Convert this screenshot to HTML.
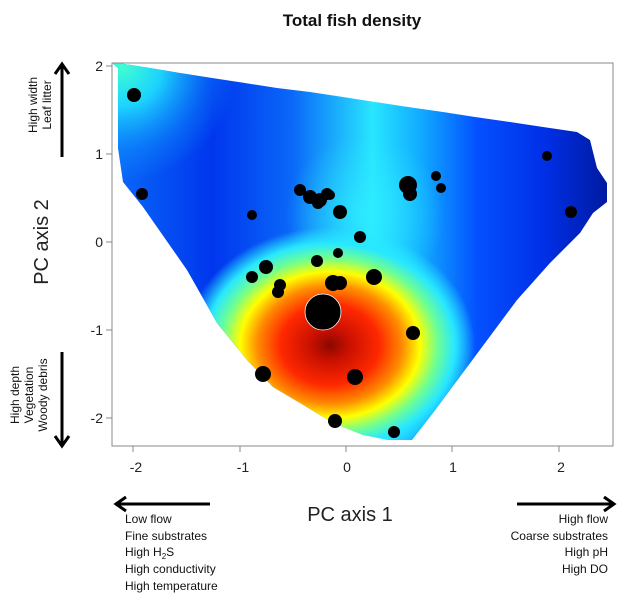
<!DOCTYPE html>
<html><head><meta charset="utf-8"><style>
body{margin:0;background:#fff;}
svg{display:block;font-family:"Liberation Sans",Arial,sans-serif;}
</style></head><body>
<svg width="633" height="601" viewBox="0 0 633 601" xmlns="http://www.w3.org/2000/svg">
<defs>
<linearGradient id="base" x1="112" y1="0" x2="613" y2="0" gradientUnits="userSpaceOnUse">
<stop offset="0" stop-color="#0a6af8"/>
<stop offset="0.2" stop-color="#0036ee"/>
<stop offset="0.36" stop-color="#0a68f8"/>
<stop offset="0.52" stop-color="#28e6ff"/>
<stop offset="0.62" stop-color="#10a8ff"/>
<stop offset="0.73" stop-color="#0450ff"/>
<stop offset="0.86" stop-color="#0030e8"/>
<stop offset="1" stop-color="#00189a"/>
</linearGradient>
<radialGradient id="tl" cx="122" cy="66" r="115" gradientUnits="userSpaceOnUse">
<stop offset="0" stop-color="#40ffd0"/>
<stop offset="0.35" stop-color="#20e8ff" stop-opacity="0.85"/>
<stop offset="0.75" stop-color="#10a0ff" stop-opacity="0.35"/>
<stop offset="1" stop-color="#10a0ff" stop-opacity="0"/>
</radialGradient>
<radialGradient id="cy" cx="365" cy="215" r="80" gradientUnits="userSpaceOnUse">
<stop offset="0" stop-color="#30f0ff" stop-opacity="0.7"/>
<stop offset="1" stop-color="#30f0ff" stop-opacity="0"/>
</radialGradient>
<radialGradient id="hot" cx="0" cy="0" r="1" gradientUnits="userSpaceOnUse" gradientTransform="translate(330,345) scale(145,118)">
<stop offset="0" stop-color="#8a0800"/>
<stop offset="0.13" stop-color="#c81000"/>
<stop offset="0.34" stop-color="#ff2800"/>
<stop offset="0.5" stop-color="#ff8c00"/>
<stop offset="0.62" stop-color="#ffff00"/>
<stop offset="0.74" stop-color="#70ff90"/>
<stop offset="0.86" stop-color="#28e8ff"/>
<stop offset="1" stop-color="#28e8ff" stop-opacity="0"/>
</radialGradient>
<clipPath id="cp"><polygon points="112,63 118,63 150,68 180,73 212,78 245,83 277,88 310,92 343,97 375,102 408,107 443,112 475,117 510,122 543,127 577,132 590,140 597,168 607,183 607,202 593,213 580,233 550,263 517,300 433,413 412,440 388,440 363,435 333,423 300,403 273,387 247,360 217,323 187,270 143,207 123,182 118,148 118,68 112,63"/></clipPath>
</defs>
<g clip-path="url(#cp)">
<rect x="100" y="50" width="520" height="400" fill="url(#base)"/>
<rect x="100" y="50" width="520" height="400" fill="url(#tl)"/>
<rect x="100" y="50" width="520" height="400" fill="url(#cy)"/>
<rect x="100" y="50" width="520" height="400" fill="url(#hot)"/>
</g>
<rect x="112" y="63" width="501" height="383" fill="none" stroke="#888" stroke-width="1"/>
<g stroke="#888" stroke-width="1">
<line x1="133" y1="446" x2="133" y2="452"/><line x1="240" y1="446" x2="240" y2="452"/><line x1="346" y1="446" x2="346" y2="452"/><line x1="452" y1="446" x2="452" y2="452"/><line x1="559" y1="446" x2="559" y2="452"/>
<line x1="106" y1="66" x2="112" y2="66"/><line x1="106" y1="154" x2="112" y2="154"/><line x1="106" y1="242" x2="112" y2="242"/><line x1="106" y1="330" x2="112" y2="330"/><line x1="106" y1="418" x2="112" y2="418"/>
</g>
<g font-size="14" fill="#222" text-anchor="middle">
<text x="136" y="472">-2</text><text x="243" y="472">-1</text><text x="347" y="472">0</text><text x="453" y="472">1</text><text x="561" y="472">2</text>
</g>
<g font-size="14" fill="#222" text-anchor="end">
<text x="103" y="71">2</text><text x="103" y="159">1</text><text x="103" y="247">0</text><text x="103" y="335">-1</text><text x="103" y="423">-2</text>
</g>
<g fill="#000">
<circle cx="134" cy="95" r="7"/><circle cx="142" cy="194" r="6"/><circle cx="547" cy="156" r="5"/><circle cx="571" cy="212" r="6"/>
<circle cx="252" cy="215" r="5"/><circle cx="300" cy="190" r="6"/><circle cx="310" cy="197" r="7"/><circle cx="320" cy="200" r="7"/><circle cx="327" cy="194" r="6"/><circle cx="318" cy="203" r="6"/><circle cx="330" cy="195" r="5"/>
<circle cx="340" cy="212" r="7"/><circle cx="408" cy="185" r="9"/><circle cx="410" cy="194" r="7"/><circle cx="436" cy="176" r="5"/><circle cx="441" cy="188" r="5"/>
<circle cx="360" cy="237" r="6"/><circle cx="338" cy="253" r="5"/><circle cx="317" cy="261" r="6"/><circle cx="266" cy="267" r="7"/><circle cx="252" cy="277" r="6"/>
<circle cx="280" cy="285" r="6"/><circle cx="278" cy="292" r="6"/><circle cx="333" cy="283" r="8"/><circle cx="340" cy="283" r="7"/><circle cx="374" cy="277" r="8"/>
<circle cx="323" cy="312" r="18" stroke="#fff" stroke-width="0.8"/><circle cx="413" cy="333" r="7"/><circle cx="263" cy="374" r="8"/><circle cx="355" cy="377" r="8"/><circle cx="335" cy="421" r="7"/><circle cx="394" cy="432" r="6"/>
</g>
<text x="352" y="26" font-size="17" font-weight="bold" text-anchor="middle" fill="#111">Total fish density</text>
<text x="350" y="521" font-size="20" text-anchor="middle" fill="#222">PC axis 1</text>
<text transform="translate(48,242) rotate(-90)" font-size="20" text-anchor="middle" fill="#222">PC axis 2</text>
<g stroke="#000" stroke-width="3" fill="none">
<line x1="62" y1="157" x2="62" y2="66"/><polyline points="55,74 62,64 69,74"/>
<line x1="62" y1="352" x2="62" y2="444"/><polyline points="55,436 62,446 69,436"/>
<line x1="210" y1="504" x2="118" y2="504"/><polyline points="126,497 116,504 126,511"/>
<line x1="517" y1="504" x2="612" y2="504"/><polyline points="604,497 614,504 604,511"/>
</g>
<g font-size="12" fill="#111" text-anchor="middle">
<text transform="translate(37,105) rotate(-90)">High width</text>
<text transform="translate(51,105) rotate(-90)">Leaf litter</text>
<text transform="translate(19,395) rotate(-90)">High depth</text>
<text transform="translate(33,395) rotate(-90)">Vegetation</text>
<text transform="translate(47,395) rotate(-90)">Woody debris</text>
</g>
<g font-size="12" fill="#111">
<text x="125" y="523">Low flow</text>
<text x="125" y="540">Fine substrates</text>
<text x="125" y="556">High H<tspan font-size="8" dy="3">2</tspan><tspan dy="-3">S</tspan></text>
<text x="125" y="573">High conductivity</text>
<text x="125" y="590">High temperature</text>
</g>
<g font-size="12" fill="#111" text-anchor="end">
<text x="608" y="523">High flow</text>
<text x="608" y="540">Coarse substrates</text>
<text x="608" y="556">High pH</text>
<text x="608" y="573">High DO</text>
</g>
</svg>
</body></html>
